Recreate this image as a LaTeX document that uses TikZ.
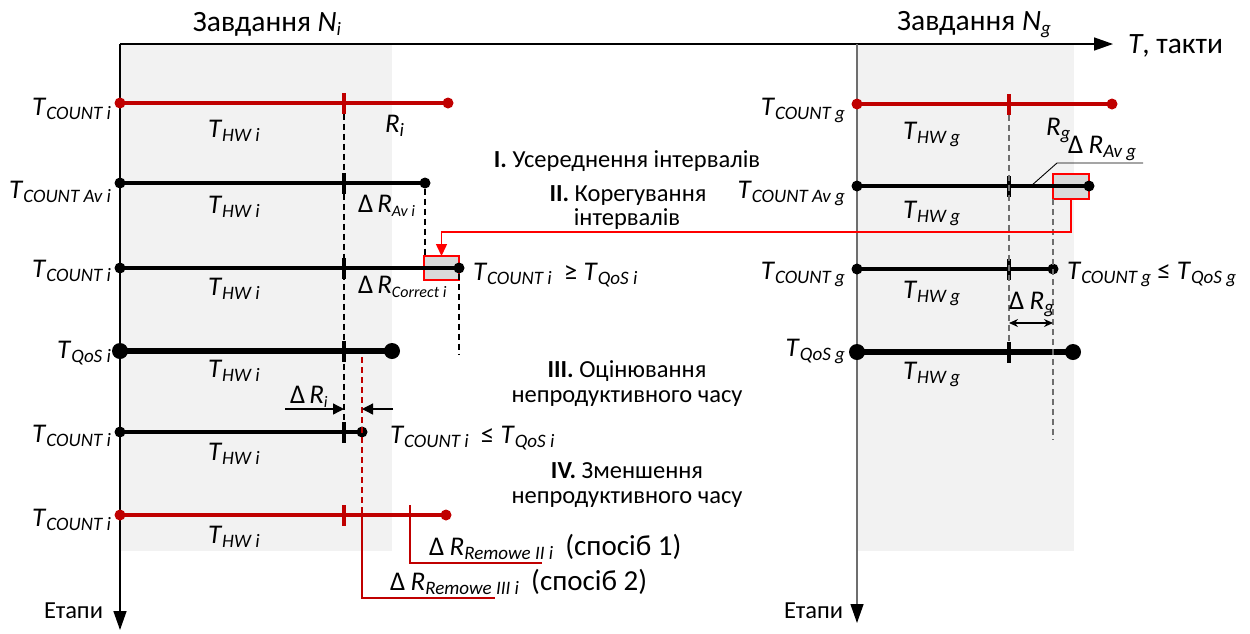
\documentclass[tikz,border=0pt]{standalone}
\usepackage{fontspec}
\setmainfont{Carlito}
\usetikzlibrary{arrows.meta}
\definecolor{dred}{RGB}{192,0,0}
\definecolor{bred}{RGB}{255,0,0}
\definecolor{areagray}{RGB}{242,242,242}
\definecolor{boxgray}{RGB}{217,217,217}
\definecolor{axgray}{RGB}{110,110,110}

% font sizes: symbols, subscripts, captions, headings
\newcommand\LF{\fontsize{27}{32}\selectfont}
\newcommand\SF{\fontsize{19}{22}\selectfont}
\newcommand\SFs{\fontsize{16}{19}\selectfont}
\newcommand\TF{\fontsize{24.5}{29}\selectfont}
\newcommand\HF{\fontsize{29.5}{34}\selectfont}
\newcommand\WF{\fontsize{29}{34}\selectfont}
% italic symbol with a lowered italic index
\newcommand\tsym[2]{\textit{#1}\raisebox{-0.16em}{\SF\itshape #2}}
\newcommand\dsym[2]{Δ\hspace{0.2em}\tsym{#1}{#2}}
% increment with a smaller index
\newcommand\dsyms[2]{Δ\hspace{0.15em}\textit{#1}\raisebox{-0.18em}{\SFs\itshape #2}}

\begin{document}
\begin{tikzpicture}[x=1pt,y=-1pt,
  every node/.style={inner sep=0pt,outer sep=0pt},
  symtxt/.style={font=\LF},
  captxt/.style={font=\TF},
  headtxt/.style={font=\HF},
  dot/.style={circle,fill,minimum size=11pt},
  bigdot/.style={circle,fill,minimum size=16pt},
  tickmark/.style={rectangle,fill,minimum width=3.5pt,minimum height=21pt},
  row/.style={line width=3.2pt},
  thickrow/.style={line width=6.5pt},
  axis/.style={line width=1.5pt,-{Triangle[length=19pt,width=13pt,color=black]}},
  guide/.style={line width=1.2pt,dash pattern=on 6pt off 4pt},
  gbox/.style={rectangle,draw=bred,fill=boxgray,line width=1.3pt},
  meas/.style={line width=1.3pt,-{Triangle[length=11pt,width=11pt]}},
  link/.style={bred,line width=1.5pt,-{Triangle[length=12pt,width=11pt]}}
]
\useasboundingbox (0,0) rectangle (1250,633);

% task areas
\fill[areagray] (120,44) rectangle (392,551);
\fill[areagray] (857,44) rectangle (1074,551);

% axes
\coordinate (O) at (120,44);
\coordinate (Tend) at (1113,44);
\coordinate (Lend) at (120,630);
\coordinate (Rtop) at (857,44);
\coordinate (Rend) at (857,623);
\draw[axis] (O) -- (Tend);
\draw[axis] (O) -- (Lend);
\draw[axis,draw=axgray,line width=1.3pt] (Rtop) -- (Rend);
\node[headtxt,anchor=base west] (tunit) at (1128,53) {\textit{T}, такти};
\node[captxt,anchor=base east] (stL) at (103,618) {Етапи};
\node[captxt,anchor=base east] (stR) at (843,618) {Етапи};
\node[headtxt,anchor=base] (taskI) at (267,31) {Завдання \textit{N}\raisebox{-0.16em}{\SF\itshape i}};
\node[headtxt,anchor=base] (taskG) at (974,30) {Завдання \textit{N}\raisebox{-0.16em}{\SF\itshape g}};

% ---------- task N_i ----------
% correction boxes (under the lines)
\node[gbox,minimum width=35pt,minimum height=24pt] (boxL) at (441.5,268) {};
\node[gbox,minimum width=36pt,minimum height=25pt] (boxR) at (1071,186.5) {};

% row 1 (red)
\node[dot,fill=dred] (a1) at (120,103) {};
\node[dot,fill=dred] (b1) at (448,103) {};
\draw[row,dred] (a1.center) -- (b1.center);
\node[tickmark,fill=dred] (k1) at (344,103) {};
% row 2
\node[dot] (a2) at (120,183) {};
\node[dot] (b2) at (425,183) {};
\draw[row] (a2.center) -- (b2.center);
\node[tickmark] (k2) at (344,183) {};
% row 3
\node[dot] (a3) at (120,268) {};
\node[dot] (b3) at (459,268) {};
\draw[row] (a3.center) -- (b3.center);
\node[tickmark] (k3) at (344,268) {};
% row 4 (QoS)
\node[bigdot] (a4) at (120,351) {};
\node[bigdot] (b4) at (392,351) {};
\draw[thickrow] (a4.center) -- (b4.center);
\node[tickmark] (k4) at (344,351) {};
% row 5
\node[dot] (a5) at (120,432) {};
\node[dot] (b5) at (362,432) {};
\draw[row] (a5.center) -- (b5.center);
\node[tickmark] (k5) at (344,432) {};
% row 6 (red)
\node[dot,fill=dred] (a6) at (120,515) {};
\node[dot,fill=dred] (b6) at (446,515) {};
\draw[row,dred] (a6.center) -- (b6.center);
\node[tickmark,fill=dred] (k6) at (344,515) {};

% guide lines
\draw[guide] (k1.south) -- (k5.north);
\coordinate (d2) at (425,256);
\draw[guide] (b2.south) -- (d2);
\coordinate (d3) at (459,355);
\draw[guide] (b3.south) -- (d3);
\coordinate (r1) at (362,357);
\coordinate (r2) at (362,515);
\coordinate (r3) at (362,598);
\coordinate (r4) at (495,598);
\draw[guide,dred] (r1) -- (r2);
\draw[dred,line width=1.6pt] (r2) -- (r3) -- (r4);
\coordinate (q1) at (410,505);
\coordinate (q2) at (410,563);
\coordinate (q3) at (542,563);
\draw[dred,line width=1.8pt] (q1) -- (q2) -- (q3);

% Delta R_i measurement
\coordinate (m1) at (285,409);
\coordinate (m2) at (344,409);
\coordinate (m3) at (393,409);
\coordinate (m4) at (362,409);
\draw[meas] (m1) -- (m2);
\draw[meas] (m3) -- (m4);

% labels, task N_i
\node[symtxt,anchor=base east] (l1) at (111,115) {\tsym{T}{COUNT i}};
\node[symtxt,anchor=base east] (l2) at (111,198) {\tsym{T}{COUNT Av i}};
\node[symtxt,anchor=base east] (l3) at (111,277) {\tsym{T}{COUNT i}};
\node[symtxt,anchor=base east] (l4) at (111,358) {\tsym{T}{QoS i}};
\node[symtxt,anchor=base east] (l5) at (111,442) {\tsym{T}{COUNT i}};
\node[symtxt,anchor=base east] (l6) at (111,526) {\tsym{T}{COUNT i}};
\node[symtxt,anchor=base west] (h1) at (208,137) {\tsym{T}{HW i}};
\node[symtxt,anchor=base west] (h2) at (208,213) {\tsym{T}{HW i}};
\node[symtxt,anchor=base west] (h3) at (208,295) {\tsym{T}{HW i}};
\node[symtxt,anchor=base west] (h4) at (208,377) {\tsym{T}{HW i}};
\node[symtxt,anchor=base west] (h5) at (208,460) {\tsym{T}{HW i}};
\node[symtxt,anchor=base west] (h6) at (208,543) {\tsym{T}{HW i}};
\node[symtxt,anchor=base west] (ri) at (385,132) {\tsym{R}{i}};
\node[symtxt,anchor=base west] (dav) at (358,212) {\dsyms{R}{Av i}};
\node[symtxt,anchor=base west] (dcor) at (358,293) {\dsyms{R}{Correct i}};
\node[symtxt,anchor=base west] (dri) at (290,403) {\dsyms{R}{i}};
\node[symtxt,anchor=base west] (ge) at (473,280) {\tsym{T}{COUNT i}\ \ ≥ \tsym{T}{QoS i}};
\node[symtxt,anchor=base west] (le) at (390,443) {\tsym{T}{COUNT i}\ \ ≤ \tsym{T}{QoS i}};
\node[symtxt,anchor=base west] (rm1) at (429,555) {\dsym{R}{Remowe II i}\ \ {\WF(спосіб 1)}};
\node[symtxt,anchor=base west] (rm2) at (390,590) {\dsym{R}{Remowe III i}\ \ {\WF(спосіб 2)}};

% stage captions
\node[captxt,anchor=base] (s1) at (627,167) {\textbf{I.} Усереднення інтервалів};
\node[captxt,anchor=base] (s2a) at (628,201) {\textbf{II.} Корегування};
\node[captxt,anchor=base] (s2b) at (627,225) {інтервалів};
\node[captxt,anchor=base] (s3a) at (627,377) {\textbf{III.} Оцінювання};
\node[captxt,anchor=base] (s3b) at (627,402) {непродуктивного часу};
\node[captxt,anchor=base] (s4a) at (627,478) {\textbf{IV.} Зменшення};
\node[captxt,anchor=base] (s4b) at (627,503) {непродуктивного часу};

% ---------- task N_g ----------
% row 1 (red)
\node[dot,fill=dred] (g1a) at (857,104) {};
\node[dot,fill=dred] (g1b) at (1112,104) {};
\draw[row,dred] (g1a.center) -- (g1b.center);
\node[tickmark,fill=dred] (gk1) at (1009,104) {};
% row 2
\node[dot] (g2a) at (857,186) {};
\node[dot] (g2b) at (1089,186) {};
\draw[row] (g2a.center) -- (g2b.center);
\node[tickmark] (gk2) at (1009,186) {};
% row 3
\node[dot] (g3a) at (857,269) {};
\node[dot] (g3b) at (1053,269) {};
\draw[row] (g3a.center) -- (g3b.center);
\node[tickmark] (gk3) at (1009,269) {};
% row 4 (QoS)
\node[bigdot] (g4a) at (857,352) {};
\node[bigdot] (g4b) at (1073,352) {};
\draw[thickrow] (g4a.center) -- (g4b.center);
\node[tickmark] (gk4) at (1009,352) {};

% guide lines
\draw[guide,draw=axgray] (gk1.south) -- (gk4.north);
\coordinate (gd) at (1053,440);
\draw[guide,draw=axgray] (boxR.south -| g3b) -- (gd);
% Delta R_g measurement
\coordinate (gm1) at (1009,323);
\coordinate (gm2) at (1053,323);
\draw[line width=1.3pt,{Stealth[length=9pt,width=8pt]}-{Stealth[length=9pt,width=8pt]}] (gm1) -- (gm2);
% leader to Delta R_Av g
\coordinate (ld1) at (1031,186);
\coordinate (ld2) at (1057,163);
\coordinate (ld3) at (1143,163);
\draw[line width=0.9pt] (ld1) -- (ld2) -- (ld3);

% labels, task N_g
\node[symtxt,anchor=base east] (gl1) at (845,115) {\tsym{T}{COUNT g}};
\node[symtxt,anchor=base east] (gl2) at (845,198) {\tsym{T}{COUNT Av g}};
\node[symtxt,anchor=base east] (gl3) at (845,279) {\tsym{T}{COUNT g}};
\node[symtxt,anchor=base east] (gl4) at (845,356) {\tsym{T}{QoS g}};
\node[symtxt,anchor=base west] (gh1) at (903,139) {\tsym{T}{HW g}};
\node[symtxt,anchor=base west] (gh2) at (903,218) {\tsym{T}{HW g}};
\node[symtxt,anchor=base west] (gh3) at (903,298) {\tsym{T}{HW g}};
\node[symtxt,anchor=base west] (gh4) at (903,379) {\tsym{T}{HW g}};
\node[symtxt,anchor=base west] (rg) at (1046,135) {\tsym{R}{g}};
\node[symtxt,anchor=base west] (dag) at (1068,153) {\dsym{R}{Av g}};
\node[symtxt,anchor=base west] (drg) at (1009,309) {\dsym{R}{g}};
\node[symtxt,anchor=base west] (gle) at (1067,279) {\tsym{T}{COUNT g} ≤ \tsym{T}{QoS g}};

% correction link from task N_g to task N_i
\coordinate (bend) at (0,232);
\draw[link] (boxR.south) -- (boxR.south |- bend) -| (boxL.north);
\end{tikzpicture}
\end{document}
